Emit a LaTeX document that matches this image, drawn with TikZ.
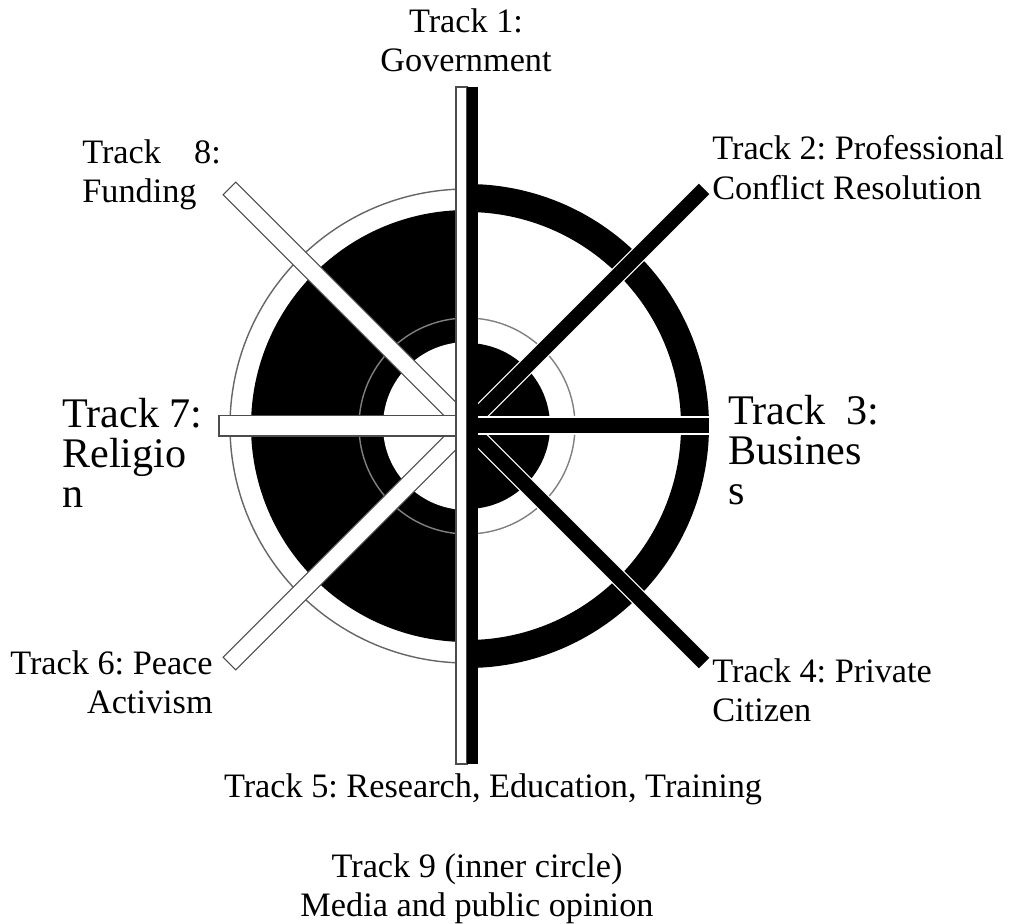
\documentclass[tikz,border=0pt]{standalone}
\usepackage{fontspec}
\setmainfont{Liberation Serif}
\frenchspacing
\begin{document}
\begin{tikzpicture}[x=0.02cm,y=-0.02cm,
    small/.style={font=\fontsize{19.5}{22.5}\selectfont,inner sep=0pt},
    big/.style={font=\fontsize{24}{22.8}\selectfont,inner sep=0pt},
    whitebar/.style={fill=white,draw=black!70,line width=0.6pt},
    blackbar/.style={fill=black,draw=white,line width=0.6pt}]
  \useasboundingbox (0,0) rectangle (1010,923);
  \coordinate (c) at (467,426);
  \draw[black!60,line width=0.8pt] (c) circle (237);
  \begin{scope}
    \clip (0,0) rectangle (467,923);
    \fill[black] (c) circle (216);
    \fill[white] (c) circle (84);
  \end{scope}
  \begin{scope}
    \clip (467,0) rectangle (1010,923);
    \fill[black,even odd rule] (c) circle (242) (c) circle (214);
    \fill[black] (c) circle (83);
  \end{scope}
  \draw[black!50,line width=0.8pt] (c) circle (108);
  \begin{scope}[shift={(c)}]
    \draw[whitebar,rotate=135] (0,-9) rectangle (336,9);
    \draw[whitebar,rotate=-135] (0,-9) rectangle (336,9);
    \draw[blackbar,rotate=45] (0,-8) rectangle (336,8);
    \draw[blackbar,rotate=-45] (0,-8) rectangle (336,8);
  \end{scope}
  \draw[whitebar] (219,415.5) rectangle (467,436);
  \draw[blackbar] (467,417) rectangle (710,434);
  \draw[whitebar] (456,87) rectangle (467,764);
  \fill[black] (467,87) rectangle (478,764);
  \node[small,align=center,anchor=north] (t1) at (466,8) {Track 1:\\Government};
  \node[small,align=left,anchor=north west] (t2) at (712,135) {Track 2: Professional\\Conflict Resolution};
  \node[big,align=left,anchor=north west] (t3) at (728,395) {Track\hspace{6pt} 3:\\Busines\\s};
  \node[small,align=left,anchor=north west] (t4) at (712,658) {Track 4: Private\\Citizen};
  \node[small,align=center,anchor=north] (t5) at (493,773) {Track 5: Research, Education, Training};
  \node[small,align=right,anchor=north east] (t6) at (213,650) {Track 6: Peace\\Activism};
  \node[big,align=left,anchor=north west] (t7) at (62,398) {Track 7:\\Religio\\n};
  \node[small,align=left,anchor=north west] (t8) at (82,139) {Track\hspace{14pt} 8:\\Funding};
  \node[small,align=center,anchor=north] (t9) at (477,853) {Track 9 (inner circle)\\Media and public opinion};
\end{tikzpicture}
\end{document}
